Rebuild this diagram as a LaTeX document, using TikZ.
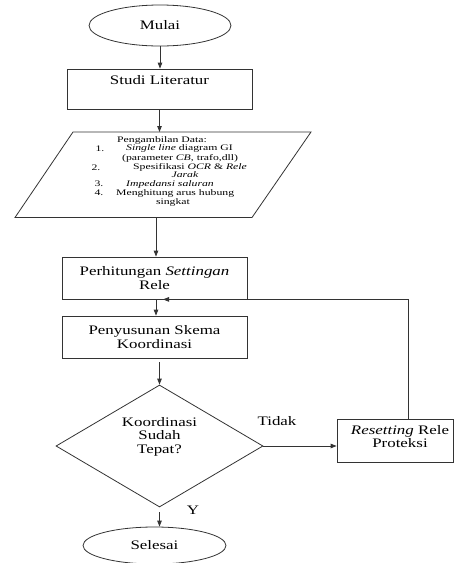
\documentclass[tikz,border=0pt]{standalone}
\usepackage{fontspec}
\usepackage{graphicx}
\setmainfont{Liberation Serif}
\usetikzlibrary{shapes.geometric,arrows.meta}
\newcommand{\sx}[1]{\scalebox{1.3}[1]{#1}}
\newcommand{\ssx}[1]{\scalebox{1.38}[1]{#1}}
\tikzset{
  ln/.style={line width=0.8pt, draw=black!80},
  arr/.style={ln, -{Triangle[length=6pt,width=4.5pt]}},
  boxnode/.style={ln, rectangle, inner sep=0pt, align=center, font=\fontsize{13}{13.5}\selectfont},
  txt/.style={inner sep=0pt, align=center, font=\fontsize{13}{13.5}\selectfont},
  small/.style={inner sep=0pt, font=\fontsize{8.5}{9}\selectfont},
}
\begin{document}
\begin{tikzpicture}[x=1pt,y=-1pt]
\useasboundingbox (0,0) rectangle (457,563);
% nodes
\node[ellipse, ln, minimum width=142pt, minimum height=41pt, inner sep=0pt, font=\fontsize{13}{13.5}\selectfont] (mulai) at (160,25.5) {\sx{Mulai}};
\node[boxnode, minimum width=185pt, minimum height=40pt] (studi) at (159.5,89) {\sx{Studi Literatur}\\\strut};
% data input (parallelogram)
\draw[ln] (73,132) coordinate (ptl) -- (311,132) coordinate (ptr) -- (252,217.5) coordinate (pbr) -- (15,217.5) coordinate (pbl) -- cycle;
\node[small] (pt0) at (162,140) {\ssx{Pengambilan Data:}};
\node[small] (n1) at (100,149) {\ssx{1.}};
\node[small, anchor=west] (pt1) at (126,148.5) {\ssx{\emph{Single line} diagram GI}};
\node[small, anchor=west] (pt2) at (122,158) {\ssx{(parameter \emph{CB}, trafo,dll)}};
\node[small] (n2) at (96,167.5) {\ssx{2.}};
\node[small, anchor=west] (pt3) at (133,167) {\ssx{Spesifikasi \emph{OCR} \& \emph{Rele}}};
\node[small] (pt4) at (185,175) {\ssx{\emph{Jarak}}};
\node[small] (n3) at (99,183.5) {\ssx{3.}};
\node[small, anchor=west] (pt5) at (126,184) {\ssx{\emph{Impedansi saluran}}};
\node[small] (n4) at (99,192.5) {\ssx{4.}};
\node[small, anchor=west] (pt6) at (116,193) {\ssx{Menghitung arus hubung}};
\node[small] (pt7) at (173,202.5) {\ssx{singkat}};
\node[boxnode, minimum width=185pt, minimum height=42pt] (perh) at (154.5,278) {\sx{Perhitungan \emph{Settingan}}\\\sx{Rele}};
\node[boxnode, minimum width=185pt, minimum height=42pt] (pen) at (154.5,337) {\sx{Penyusunan Skema}\\\sx{Koordinasi}};
\node[diamond, ln, minimum width=207pt, minimum height=122pt, inner sep=0pt] (dec) at (159.5,446) {};
\node[txt] (dectxt) at (159.5,436.5) {\sx{Koordinasi}\\\sx{Sudah}\\\sx{Tepat?}};
\node[boxnode, minimum width=116pt, minimum height=43pt] (reset) at (395,440.5) {};
\node[txt] (resettxt) at (400,436.5) {\sx{\emph{Resetting} Rele}\\\sx{Proteksi}};
\node[ellipse, ln, minimum width=143pt, minimum height=37pt, inner sep=0pt, font=\fontsize{13}{13.5}\selectfont] (selesai) at (154.5,545.5) {\sx{Selesai}};
\node[txt] (tidak) at (277,421) {\sx{Tidak}};
\node[txt] (ylab) at (193,510) {\sx{Y}};
% connectors
\draw[arr] (mulai.south) -- (mulai.south |- studi.north);
\draw[arr] (studi.south) -- (studi.south |- ptl);
\draw[arr] ([xshift=1.5pt]perh.north |- pbl) -- ([xshift=1.5pt]perh.north);
\draw[arr] ([xshift=1.5pt]perh.south) -- ([xshift=1.5pt]pen.north);
\draw[arr, shorten <=4pt] (pen.south -| dec.north) -- (dec.north);
\draw[arr, shorten <=5pt] (dec.south) -- (dec.south |- selesai.north);
\draw[arr] (dec.east) -- (dec.east -| reset.west);
\coordinate (fb) at ([xshift=8.5pt]perh.south);
\draw[arr] ([xshift=13pt]reset.north) |- (fb);
\end{tikzpicture}
\end{document}
